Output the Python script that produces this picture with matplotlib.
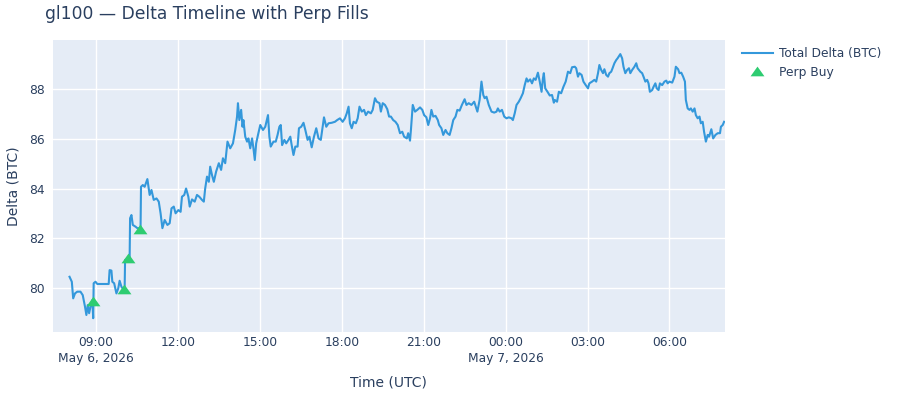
import matplotlib
matplotlib.use("Agg")
import matplotlib.pyplot as plt
import pandas as pd

# ---- data ----
start_time = "2026-05-06 08:00"
delta_minutes = [
    2, 7, 10, 14, 19, 26, 31, 36, 39, 42, 45, 48, 52, 54, 55, 59, 63, 88, 90, 94,
    96, 100, 105, 109, 112, 116, 121, 123, 124, 134, 135, 138, 141, 147, 151, 158, 159, 163, 167, 173,
    178, 182, 187, 193, 198, 202, 206, 211, 217, 222, 226, 231, 235, 241, 246, 249, 254, 258, 263, 266,
    271, 277, 282, 287, 293, 297, 300, 304, 308, 311, 315, 319, 324, 330, 335, 339, 344, 349, 355, 361,
    366, 370, 372, 375, 379, 382, 384, 388, 392, 395, 399, 403, 406, 409, 412, 416, 421, 427, 432, 438,
    441, 444, 450, 455, 459, 463, 466, 469, 474, 478, 483, 487, 490, 494, 498, 503, 506, 511, 516, 520,
    525, 529, 534, 539, 544, 549, 554, 558, 561, 566, 571, 578, 585, 590, 596, 602, 607, 611, 615, 618,
    622, 626, 631, 635, 639, 644, 649, 653, 658, 664, 668, 673, 677, 683, 686, 690, 695, 700, 704, 708,
    713, 718, 723, 728, 733, 737, 743, 746, 750, 752, 756, 761, 766, 772, 777, 781, 786, 790, 794, 797,
    801, 806, 811, 814, 819, 823, 828, 832, 837, 841, 845, 850, 854, 859, 864, 870, 874, 879, 885, 891,
    894, 898, 903, 907, 911, 914, 918, 923, 929, 935, 940, 943, 947, 952, 957, 962, 967, 973, 976, 980,
    984, 989, 993, 998, 1002, 1006, 1009, 1014, 1018, 1022, 1026, 1031, 1035, 1039, 1042, 1044, 1047, 1052, 1057, 1062,
    1066, 1068, 1073, 1077, 1082, 1087, 1092, 1097, 1102, 1106, 1112, 1115, 1119, 1122, 1127, 1131, 1136, 1141, 1144, 1150,
    1155, 1159, 1163, 1166, 1170, 1174, 1177, 1181, 1185, 1188, 1192, 1195, 1199, 1203, 1206, 1212, 1216, 1219, 1223, 1227,
    1231, 1234, 1238, 1243, 1247, 1250, 1256, 1260, 1263, 1267, 1271, 1274, 1277, 1282, 1285, 1289, 1292, 1296, 1299, 1304,
    1309, 1313, 1316, 1320, 1326, 1331, 1334, 1339, 1342, 1346, 1350, 1354, 1356, 1360, 1364, 1367, 1371, 1375, 1378, 1382,
    1386, 1389, 1393, 1396, 1400, 1404, 1407, 1412, 1416, 1421, 1426, 1431, 1433, 1437, 1440,
]
delta_btc = [
    80.44, 80.24, 79.57, 79.77, 79.84, 79.84, 79.70, 79.23, 78.90, 79.30, 78.97, 79.23, 79.50, 78.77, 80.18, 80.24, 80.15, 80.15, 80.71, 80.69,
    80.24, 80.18, 79.77, 79.97, 80.28, 80.04, 79.91, 79.91, 81.12, 81.18, 82.80, 82.93, 82.53, 82.46, 82.40, 82.40, 84.07, 84.14, 84.07, 84.38,
    83.74, 83.94, 83.54, 83.60, 83.47, 83.00, 82.40, 82.73, 82.53, 82.60, 83.20, 83.27, 83.00, 83.13, 83.06, 83.67, 83.74, 84.00, 83.67, 83.27,
    83.56, 83.47, 83.74, 83.67, 83.54, 83.47, 84.00, 84.48, 84.27, 84.88, 84.54, 84.27, 84.68, 85.02, 84.75, 85.22, 85.02, 85.89, 85.62, 85.82,
    86.36, 86.90, 87.44, 86.76, 87.17, 86.49, 86.76, 86.09, 85.89, 86.02, 85.62, 86.02, 85.62, 85.15, 85.82, 86.16, 86.56, 86.36, 86.49, 86.96,
    86.09, 85.69, 85.89, 85.89, 86.16, 86.49, 86.56, 85.75, 85.96, 85.82, 85.96, 86.09, 85.75, 85.35, 85.69, 85.69, 86.43, 86.49, 86.65, 86.36,
    85.96, 86.09, 85.66, 86.09, 86.43, 86.02, 85.96, 86.49, 86.87, 86.49, 86.63, 86.65, 86.69, 86.76, 86.83, 86.69, 86.83, 87.03, 87.30, 86.63,
    86.43, 86.69, 86.63, 86.83, 87.30, 87.10, 87.17, 86.96, 87.10, 87.03, 87.17, 87.64, 87.50, 87.44, 87.10, 87.44, 87.37, 87.20, 86.90, 86.90,
    86.76, 86.69, 86.56, 86.23, 86.29, 86.09, 86.02, 86.23, 85.93, 86.36, 87.37, 87.10, 87.17, 87.27, 87.17, 86.96, 86.87, 86.56, 86.83, 87.17,
    86.90, 86.93, 86.76, 86.56, 86.43, 86.16, 86.36, 86.23, 86.16, 86.43, 86.76, 86.90, 87.17, 87.14, 87.37, 87.60, 87.37, 87.44, 87.37, 87.50,
    87.33, 87.10, 87.58, 88.31, 87.77, 87.64, 87.70, 87.37, 87.10, 87.06, 87.10, 87.23, 87.10, 87.17, 86.90, 86.83, 86.87, 86.83, 86.76, 87.03,
    87.37, 87.50, 87.64, 87.84, 88.17, 88.44, 88.31, 88.40, 88.24, 88.44, 88.38, 88.67, 88.31, 87.90, 88.44, 88.65, 88.04, 87.90, 87.75, 87.77,
    87.46, 87.57, 87.50, 87.90, 87.84, 88.10, 88.31, 88.71, 88.65, 88.89, 88.91, 88.85, 88.51, 88.65, 88.58, 88.31, 88.17, 88.04, 88.24, 88.31,
    88.38, 88.31, 88.65, 88.98, 88.78, 88.65, 88.81, 88.58, 88.51, 88.65, 88.71, 88.85, 89.05, 89.18, 89.25, 89.42, 89.25, 88.91, 88.65, 88.78,
    88.85, 88.65, 88.78, 88.91, 89.05, 88.85, 88.71, 88.65, 88.51, 88.31, 88.38, 88.24, 87.90, 87.97, 88.10, 88.24, 88.04, 87.97, 88.24, 88.17,
    88.31, 88.35, 88.24, 88.31, 88.27, 88.51, 88.91, 88.81, 88.65, 88.67, 88.51, 88.31, 87.57, 87.23, 87.17, 87.23, 87.10, 87.23, 86.96, 86.83,
    86.90, 86.63, 86.69, 86.29, 85.89, 86.16, 86.09, 86.39, 86.02, 86.16, 86.23, 86.23, 86.49, 86.56, 86.69,
]
fill_minutes = [53, 121, 131, 156]
fill_delta = [79.42, 79.92, 81.16, 82.33]

title = "gl100 — Delta Timeline with Perp Fills"
x_label = "Time (UTC)"
y_label = "Delta (BTC)"
line_name = "Total Delta (BTC)"
fill_name = "Perp Buy"
y_ticks = [80, 82, 84, 86, 88]

# ---- build ----
base = pd.Timestamp(start_time)
t_line = [base + pd.Timedelta(minutes=m) for m in delta_minutes]
t_fill = [base + pd.Timedelta(minutes=m) for m in fill_minutes]

TEXT = "#2a3f5f"
plt.rcParams["font.family"] = ["DejaVu Sans"]

fig = plt.figure(figsize=(9, 4), dpi=100)
ax = fig.add_axes([52.7 / 900, 1 - 331.7 / 400, (725 - 52.7) / 900, (331.7 - 40) / 400])
ax.set_facecolor("#E5ECF6")
for s in ax.spines.values():
    s.set_visible(False)

tri = [(-1.0, -0.55), (1.0, -0.55), (0.0, 0.85), (-1.0, -0.55)]

ax.plot(t_line, delta_btc, color="#3498db", lw=1.5, label=line_name, zorder=3)
ax.plot(t_fill, fill_delta, ls="none", marker=tri, ms=10, color="#2ecc71",
        markeredgewidth=0, label=fill_name, zorder=4)

ax.set_xlim(base + pd.Timedelta(minutes=-35), base + pd.Timedelta(minutes=1442))
ax.set_ylim(78.226, 89.988)
ax.set_yticks(y_ticks)
ax.set_yticklabels([str(v) for v in y_ticks])

xt = pd.date_range("2026-05-06 09:00", "2026-05-07 06:00", freq="3h")
ax.set_xticks(list(xt))
labels = []
for i, t in enumerate(xt):
    lab = t.strftime("%H:%M")
    if i == 0 or (t.hour == 0):
        lab += "\n" + t.strftime("%b ") + str(t.day) + t.strftime(", %Y")
    labels.append(lab)
ax.set_xticklabels(labels, linespacing=1.3)

ax.grid(True, color="white", lw=1.0, zorder=0)
ax.set_axisbelow(True)
ax.tick_params(axis="both", length=0, labelsize=8.8, colors=TEXT)
ax.tick_params(axis="y", pad=5.5)
ax.tick_params(axis="x", pad=3.0)
for lab in ax.get_xticklabels():
    lab.set_verticalalignment("top")
    lab.set_horizontalalignment("center")

fig.text(388 / 900, 1 - 382 / 400, x_label, ha="center", va="center", fontsize=10, color=TEXT)
fig.text(14 / 900, 1 - 186 / 400, y_label, ha="center", va="center", rotation=90, fontsize=10, color=TEXT)
fig.text(45 / 900, 1 - 14 / 400, title, ha="left", va="center", fontsize=12.3, color=TEXT)

leg = ax.legend(loc="upper left", bbox_to_anchor=(742 / 900, 1 - 47 / 400),
                bbox_transform=fig.transFigure, frameon=False, fontsize=8.8,
                handlelength=2.5, handletextpad=0.55, labelspacing=0.5,
                borderpad=0, borderaxespad=0)
for txt in leg.get_texts():
    txt.set_color(TEXT)

fig.savefig("out.png", dpi=100)
